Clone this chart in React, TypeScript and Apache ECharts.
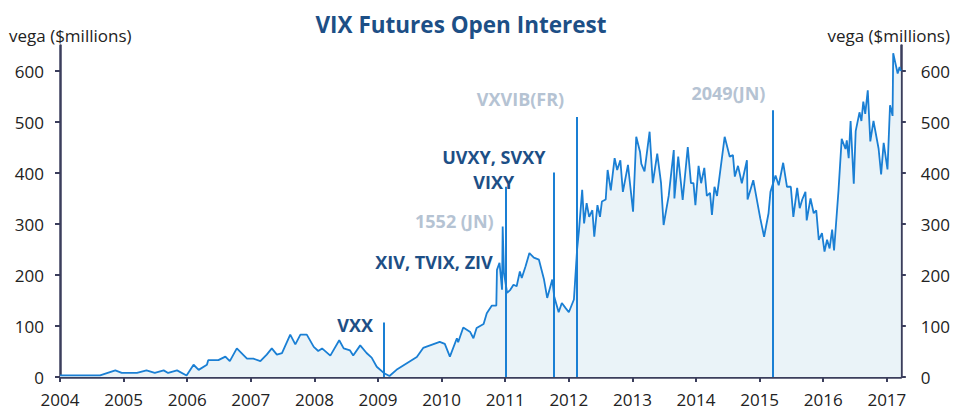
import React, { useEffect, useRef } from "react";
import * as echarts from "echarts";

const dates = [
  2004.0, 2004.63, 2004.87, 2004.97, 2005.21, 2005.36, 2005.49, 2005.63, 2005.7, 2005.84, 2005.99,
  2006.1, 2006.18, 2006.31, 2006.33, 2006.49, 2006.6, 2006.67, 2006.78, 2006.94, 2007.04, 2007.15,
  2007.25, 2007.33, 2007.41, 2007.49, 2007.62, 2007.7, 2007.78, 2007.88, 2007.99, 2008.06, 2008.12,
  2008.25, 2008.39, 2008.46, 2008.56, 2008.61, 2008.72, 2008.82, 2008.9, 2008.98, 2009.09, 2009.18,
  2009.29, 2009.61, 2009.71, 2009.97, 2010.05, 2010.13, 2010.24, 2010.26, 2010.34, 2010.45, 2010.5,
  2010.55, 2010.66, 2010.71, 2010.79, 2010.86, 2010.87, 2010.91, 2010.95, 2010.96, 2010.98, 2011.03,
  2011.08, 2011.13, 2011.18, 2011.23, 2011.26, 2011.32, 2011.38, 2011.45, 2011.53, 2011.61, 2011.66,
  2011.74, 2011.77, 2011.84, 2011.89, 2011.95, 2012.0, 2012.08, 2012.13, 2012.16, 2012.21, 2012.24,
  2012.28, 2012.32, 2012.37, 2012.4, 2012.45, 2012.49, 2012.52, 2012.58, 2012.61, 2012.66, 2012.72,
  2012.76, 2012.81, 2012.85, 2012.93, 2013.01, 2013.06, 2013.12, 2013.14, 2013.19, 2013.27, 2013.32,
  2013.39, 2013.45, 2013.49, 2013.57, 2013.65, 2013.66, 2013.72, 2013.79, 2013.87, 2013.92, 2013.96,
  2013.99, 2014.04, 2014.08, 2014.13, 2014.17, 2014.22, 2014.25, 2014.29, 2014.33, 2014.45, 2014.53,
  2014.58, 2014.61, 2014.66, 2014.72, 2014.8, 2014.81, 2014.9, 2015.01, 2015.07, 2015.14, 2015.17,
  2015.25, 2015.3, 2015.37, 2015.43, 2015.49, 2015.53, 2015.59, 2015.63, 2015.67, 2015.72, 2015.74,
  2015.8, 2015.85, 2015.89, 2015.93, 2015.98, 2016.02, 2016.06, 2016.1, 2016.14, 2016.17, 2016.24,
  2016.29, 2016.35, 2016.37, 2016.4, 2016.43, 2016.48, 2016.51, 2016.57, 2016.6, 2016.63, 2016.66,
  2016.7, 2016.74, 2016.79, 2016.87, 2016.91, 2016.95, 2017.01, 2017.05, 2017.09, 2017.1, 2017.17,
  2017.2, 2017.22,
];

const vega = [
  3, 3, 13, 8, 8, 13, 8, 13, 8, 13, 3,
  24, 14, 24, 33, 33, 40, 31, 56, 36, 36, 31,
  44, 56, 44, 47, 83, 64, 83, 83, 59, 51, 56,
  42, 72, 56, 52, 42, 62, 47, 38, 20, 8, 2,
  14, 39, 57, 69, 65, 40, 76, 68, 97, 88, 76,
  96, 104, 125, 140, 140, 210, 224, 171, 295, 204, 165,
  171, 181, 178, 207, 194, 217, 243, 234, 230, 191, 155,
  191, 158, 127, 145, 135, 127, 152, 250, 288, 367, 301,
  341, 314, 327, 275, 337, 314, 344, 348, 406, 366, 429,
  406, 425, 363, 416, 324, 471, 441, 418, 403, 481, 380,
  438, 380, 298, 355, 445, 350, 432, 347, 451, 380, 380,
  337, 414, 380, 410, 355, 361, 318, 373, 355, 471, 432,
  435, 393, 414, 380, 425, 348, 386, 311, 275, 321, 363,
  395, 376, 420, 373, 373, 314, 371, 331, 348, 363, 307,
  350, 321, 327, 269, 282, 246, 269, 252, 289, 248, 366,
  467, 447, 464, 429, 502, 379, 482, 519, 502, 540, 516,
  562, 462, 502, 448, 397, 459, 407, 533, 512, 635, 595,
  608, 600,
];

const launchDates = [2009.09, 2011.01, 2011.76, 2012.12, 2015.2];
const launchTops = [107, 373, 401, 510, 523];

const noteTexts = ["VXX", "XIV, TVIX, ZIV", "1552 (JN)", "UVXY, SVXY", "VIXY", "VXVIB(FR)", "2049(JN)"];
const noteDates = [2008.64, 2009.88, 2010.2, 2010.82, 2010.82, 2011.24, 2014.51];
const noteValues = [102, 225, 306, 432, 383, 545, 557];
const noteMuted = [false, false, true, false, false, true, true];

const yearTicks = [2004, 2005, 2006, 2007, 2008, 2009, 2010, 2011, 2012, 2013, 2014, 2015, 2016, 2017];
const valueTicks = [0, 100, 200, 300, 400, 500, 600];

const AXIS = "#3b3e5c";
const LINE = "#1a7fd4";
const DARK = "#1d4f86";
const MUTED = "#b5c3d3";
const FONT = "'Open Sans', 'Noto Sans', sans-serif";

export default function App() {
  const ref = useRef<HTMLDivElement>(null);
  useEffect(() => {
    if (!ref.current) return;
    const chart = echarts.init(ref.current, undefined, { renderer: "svg" });
    const yAxisBase = (pos: "left" | "right", margin: number) => ({
      type: "value",
      position: pos,
      min: 0,
      max: 650,
      axisLine: { show: true, lineStyle: { color: AXIS, width: 2.5 } },
      axisTick: { show: true, length: 5, lineStyle: { color: AXIS, width: 2 }, customValues: valueTicks },
      axisLabel: { color: "#222", fontSize: 17, fontFamily: FONT, margin, customValues: valueTicks },
      splitLine: { show: false },
    });
    chart.setOption({
      animation: false,
      grid: { left: 60, right: 52, top: 45.5, bottom: 33, containLabel: false },
      xAxis: {
        type: "value",
        min: 2004,
        max: 2017.22,
        axisLine: { show: true, onZero: false, lineStyle: { color: AXIS, width: 2.5 } },
        axisTick: { show: true, length: 5, lineStyle: { color: AXIS, width: 2 }, customValues: yearTicks },
        axisLabel: {
          color: "#222",
          fontSize: 17,
          fontFamily: FONT,
          margin: 14,
          customValues: yearTicks,
          formatter: (v: number) => String(v),
        },
        splitLine: { show: false },
      },
      yAxis: [yAxisBase("left", 16), yAxisBase("right", 20)],
      graphic: [
        {
          type: "text",
          style: {
            text: "VIX Futures Open Interest",
            x: 461,
            y: 24,
            fill: DARK,
            font: `bold 22.5px ${FONT}`,
            align: "center",
            verticalAlign: "middle",
            textAlign: "center",
            textVerticalAlign: "middle",
          },
        },
        {
          type: "text",
          style: {
            text: "vega ($millions)",
            x: 9,
            y: 35,
            fill: "#222",
            font: `17px ${FONT}`,
            align: "left",
            verticalAlign: "middle",
            textAlign: "left",
            textVerticalAlign: "middle",
          },
        },
        {
          type: "text",
          style: {
            text: "vega ($millions)",
            x: 950,
            y: 35,
            fill: "#222",
            font: `17px ${FONT}`,
            align: "right",
            verticalAlign: "middle",
            textAlign: "right",
            textVerticalAlign: "middle",
          },
        },
      ],
      series: [
        {
          type: "line",
          yAxisIndex: 0,
          data: dates.map((d, i) => [d, vega[i]]),
          showSymbol: false,
          symbol: "none",
          lineStyle: { color: LINE, width: 1.8 },
          areaStyle: { color: "#eaf3f8", opacity: 1 },
          z: 3,
          markLine: {
            silent: true,
            symbol: ["none", "none"],
            label: { show: false },
            lineStyle: { color: LINE, width: 2, type: "solid" },
            data: launchDates.map((d, i) => [{ coord: [d, 0] }, { coord: [d, launchTops[i]] }]),
          },
          markPoint: {
            silent: true,
            symbol: "circle",
            symbolSize: 0,
            data: noteTexts.map((t, i) => ({
              coord: [noteDates[i], noteValues[i]],
              label: {
                show: true,
                position: "inside",
                formatter: t,
                color: noteMuted[i] ? MUTED : DARK,
                fontSize: 18,
                fontWeight: "bold",
                fontFamily: FONT,
              },
            })),
          },
        },
      ],
    });
    return () => chart.dispose();
  }, []);
  return <div ref={ref} style={{ width: 953, height: 410, position: "absolute", left: 0, top: 0 }} />;
}
